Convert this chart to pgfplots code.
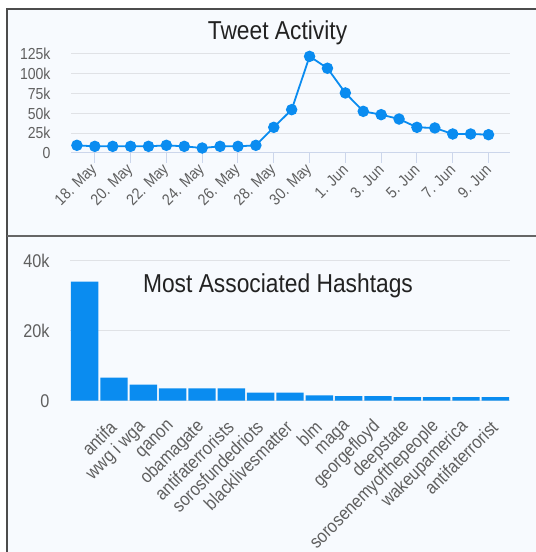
\documentclass[border=0pt]{standalone}
\usepackage{fontspec}
\setmainfont{Liberation Sans}[FakeStretch=0.88]
\usepackage{pgfplots}
\pgfplotsset{compat=1.18}

\definecolor{barblue}{RGB}{10,140,240}
\definecolor{panelbg}{RGB}{247,250,254}
\definecolor{gridgray}{RGB}{224,226,230}
\definecolor{ticktxt}{RGB}{95,95,95}
\definecolor{titletxt}{RGB}{34,34,34}
\definecolor{axisgray}{RGB}{204,214,235}

\begin{document}
\begin{tikzpicture}
\path[use as bounding box] (0,0) rectangle (536bp,552bp);
\fill[panelbg] (7bp,0) rectangle (536bp,543bp);
\draw[black!70, line width=1.2bp] (7bp,0) -- (7bp,543bp) -- (536bp,543bp);
\draw[black!60, line width=1.5bp] (7bp,316bp) -- (536bp,316bp);

% Tweet activity (17 May .. 9 Jun)
\begin{axis}[
    at={(71bp,399bp)}, anchor=south west,
    scale only axis, width=439bp, height=99bp,
    xmin=-0.33, xmax=24.2, ymin=0, ymax=125000,
    axis lines*=left,
    y axis line style={draw=none},
    x axis line style={draw=axisgray, line width=1bp},
    ymajorgrids, grid style={gridgray, line width=1bp},
    ytick={0,25000,50000,75000,100000,125000},
    yticklabels={0,25k,50k,75k,100k,125k},
    xtick={1,3,5,7,9,11,13,15,17,19,21,23},
    xticklabels={18. May,20. May,22. May,24. May,26. May,28. May,30. May,1. Jun,3. Jun,5. Jun,7. Jun,9. Jun},
    tick align=outside, major tick length=10bp,
    xtick style={draw=axisgray, line width=1bp},
    ytick style={draw=none},
    tick label style={font=\fontsize{16}{19}\selectfont, text=ticktxt},
    yticklabel style={anchor=east, xshift=-7bp},
    xticklabel style={rotate=45, anchor=east, inner sep=1bp, xshift=-2bp, yshift=-3bp},
    scaled y ticks=false,
    clip=false,
]
\addplot[barblue, line width=1.8bp, mark=*, mark size=4.8bp,
    mark options={fill=barblue, draw=barblue}]
coordinates {(0,9700)(1,8400)(2,8400)(3,8400)(4,8400)(5,9700)(6,8400)(7,6300)
(8,8400)(9,8400)(10,9700)(11,32400)(12,54700)(13,122000)(14,107000)(15,75800)
(16,52600)(17,48400)(18,42900)(19,32400)(20,31600)(21,24000)(22,24000)(23,23100)};
\end{axis}
\node[anchor=base, text=titletxt] at (277.5bp,512bp) {\fontsize{26}{30}\selectfont Tweet Activity};

% Most associated hashtags
\begin{axis}[
    at={(70bp,151.3bp)}, anchor=south west,
    scale only axis, width=440bp, height=139.7bp,
    xmin=-0.5, xmax=14.5, ymin=0, ymax=40000,
    axis line style={draw=none},
    ymajorgrids, grid style={gridgray, line width=1bp},
    ytick={0,20000,40000},
    yticklabels={0,20k,40k},
    xtick={1,2,3,4,5,6,7,8,9,10,11,12,13,14},
    xticklabels={antifa,wwg i wga,qanon,obamagate,antifaterrorists,sorosfundedriots,blacklivesmatter,blm,maga,georgefloyd,deepstate,sorosenemyofthepeople,wakeupamerica,antifaterrorist},
    tick style={draw=none},
    tick label style={font=\fontsize{18.5}{22}\selectfont, text=ticktxt},
    yticklabel style={anchor=east, xshift=-17bp},
    xticklabel style={rotate=45, anchor=east, inner sep=1bp, xshift=-13bp, yshift=-13bp},
    scaled y ticks=false,
    ybar, bar width=27.4bp,
]
\addplot[fill=barblue, draw=none]
coordinates {(0,34100)(1,6600)(2,4600)(3,3500)(4,3500)(5,3500)(6,2300)(7,2300)
(8,1500)(9,1300)(10,1300)(11,1000)(12,1000)(13,1000)(14,1000)};
\end{axis}
\node[anchor=base, text=titletxt] at (278bp,259bp) {\fontsize{26}{30}\selectfont Most Associated Hashtags};
\end{tikzpicture}
\end{document}
